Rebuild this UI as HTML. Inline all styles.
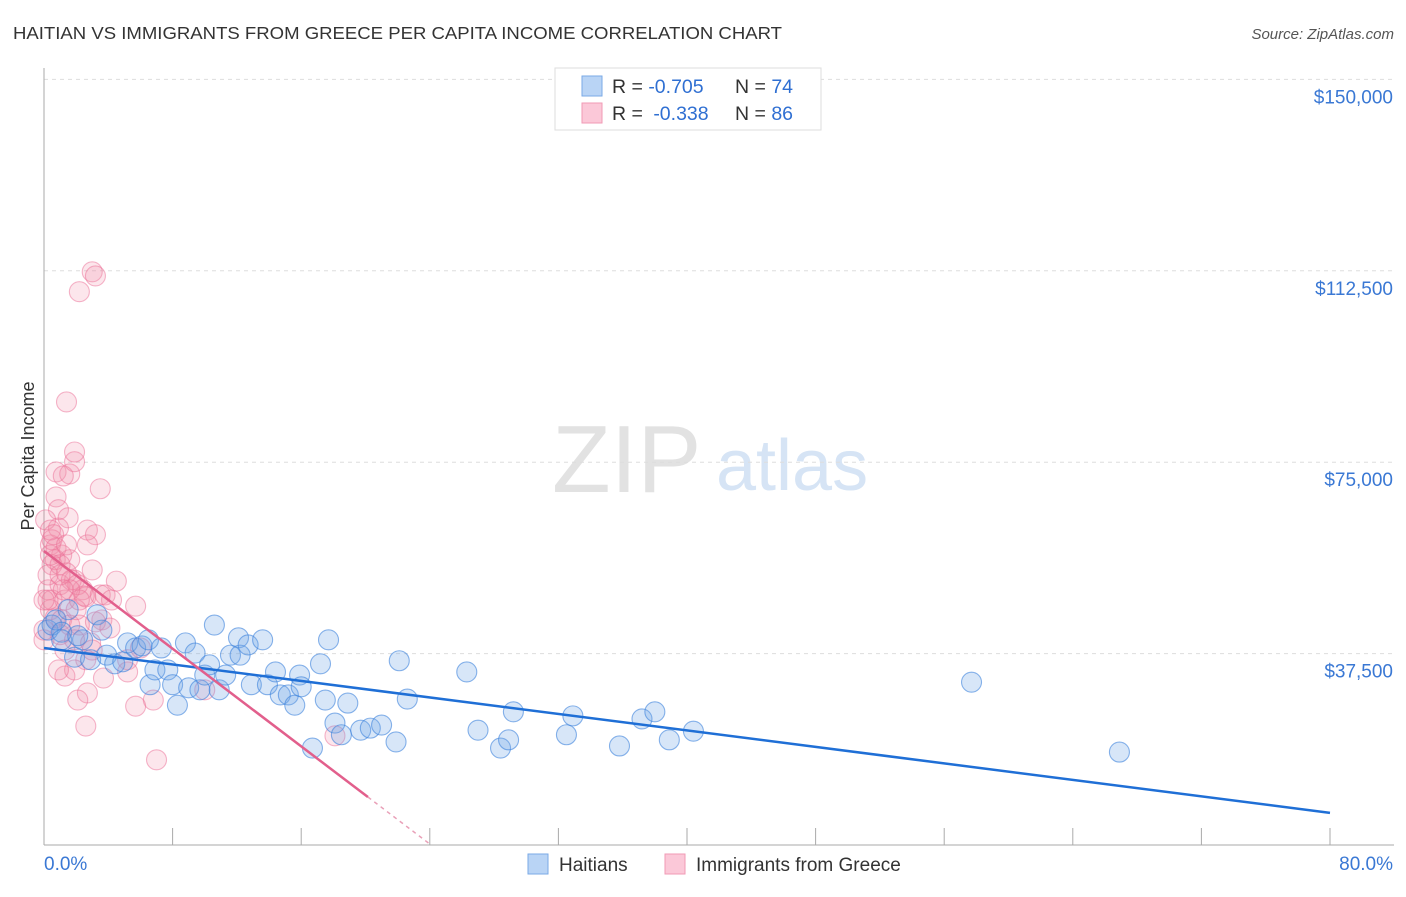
<!DOCTYPE html>
<html><head><meta charset="utf-8"><style>
body{margin:0;background:#fff;font-family:"Liberation Sans",sans-serif;}
svg text{font-family:"Liberation Sans",sans-serif;}
</style></head><body>
<svg id="chart" width="1406" height="892" viewBox="0 0 1406 892" xmlns="http://www.w3.org/2000/svg">
<text x="13" y="39" font-size="17.5" fill="#333" textLength="769" lengthAdjust="spacingAndGlyphs">HAITIAN VS IMMIGRANTS FROM GREECE PER CAPITA INCOME CORRELATION CHART</text>
<text x="1394" y="39" font-size="15" fill="#555" text-anchor="end" font-style="italic">Source: ZipAtlas.com</text>
<g>
<text x="552" y="492" font-size="96" fill="#e2e2e2" font-family="Liberation Serif,serif">ZIP</text>
<text x="716" y="490" font-size="72" fill="#d6e4f5">atlas</text>
</g>
<g id="grid"></g>
<g id="axes"></g>
<text transform="translate(34,456) rotate(-90)" font-size="18" fill="#333" text-anchor="middle">Per Capita Income</text>
<g id="pts"></g>
<g id="lines"></g>
<g>
<rect x="555" y="68" width="266" height="62" fill="#fff" stroke="#ddd"/>
<rect x="582" y="76" width="20" height="20" fill="#b9d4f5" stroke="#7aaae6"/>
<rect x="582" y="103" width="20" height="20" fill="#fbc8d8" stroke="#f09ab5"/>
<text x="612" y="93" font-size="19.5" fill="#333">R = <tspan fill="#2f6fd2">-0.705</tspan><tspan x="735">N = </tspan><tspan fill="#2f6fd2">74</tspan></text>
<text x="612" y="120" font-size="19.5" fill="#333">R = <tspan fill="#2f6fd2" dx="5">-0.338</tspan><tspan x="735">N = </tspan><tspan fill="#2f6fd2">86</tspan></text>
</g>
<g>
<rect x="528" y="854" width="20" height="20" fill="#b9d4f5" stroke="#7aaae6"/>
<text x="559" y="871" font-size="19" fill="#333">Haitians</text>
<rect x="665" y="854" width="20" height="20" fill="#fbc8d8" stroke="#f09ab5"/>
<text x="696" y="871" font-size="19" fill="#333">Immigrants from Greece</text>
</g>
</svg>
<script>
const yTicks=[37500,75000,112500,150000];
const yTickLabels=["$37,500","$75,000","$112,500","$150,000"];
const xTickLabels=["0.0%","80.0%"];
const blueX=[0.25,0.5,0.75,1.1,1.5,1.9,2.4,2.9,3.3,3.6,3.9,4.4,4.9,5.2,5.7,6.1,6.5,6.6,6.9,7.3,7.7,8.0,8.3,8.8,9.0,9.4,9.7,10.0,10.3,10.6,10.9,11.3,11.6,12.1,12.2,12.7,12.9,13.6,13.9,14.4,14.7,15.2,15.6,15.9,16.0,16.7,17.2,17.5,17.7,18.1,18.5,18.9,19.7,20.3,21.0,21.9,22.1,22.6,26.3,27.0,28.4,28.9,29.2,32.5,32.9,35.8,37.2,38.0,38.9,40.4,57.7,66.9,1.1,2.1];
const blueY=[42100,43100,44100,41700,46100,36800,40200,36300,45100,42100,37200,35500,35900,39600,38600,39000,40200,31400,34300,38600,34300,31400,27400,39600,30800,37600,30400,33300,35300,43100,30400,33300,37200,40600,37200,39200,31400,40200,31400,33900,29400,29400,27400,33300,31000,19000,35500,28400,40200,23900,21600,27800,22500,22900,23500,20200,36100,28600,33900,22500,19000,20600,26100,21600,25300,19400,24700,26100,20600,22300,31900,18200,40200,41000];
const pinkX=[3.0,3.2,2.2,1.4,0.75,1.6,1.2,1.9,1.9,3.5,0.75,0.9,1.5,2.7,3.2,0.9,2.7,0.4,1.1,0.5,0.7,1.6,3.0,4.5,0.25,1.0,1.9,2.4,1.3,2.6,5.7,0.4,0.7,1.1,1.6,3.6,2.2,1.0,1.9,2.9,1.3,2.6,0.25,0.4,0.5,0.75,1.0,1.4,1.7,2.1,2.5,3.2,4.1,5.2,6.0,1.3,1.9,5.2,3.7,2.7,2.1,6.8,5.7,10.0,2.6,18.1,7.0,0.25,0.5,0,0.9,3.5,3.8,4.2,0.1,0.4,0.6,1.4,1.6,2.0,2.2,1.0,1.2,3.0,0,0];
const pinkY=[112300,111500,108400,86800,73100,72700,72300,75100,77000,69800,68200,65700,64100,61700,60800,62100,58800,58800,56800,54900,55900,55900,53900,51700,50000,51000,51900,50000,48000,48600,46800,46100,44500,44100,43100,44100,43100,41200,40200,39600,38200,36300,52900,56800,59800,58200,54900,53300,51900,51000,48800,43700,42500,36300,38600,33100,34300,33900,32700,29800,28400,28400,27200,30400,23300,21400,16700,48000,48000,48000,34300,49000,49000,48000,63700,61700,60800,58800,50000,46100,48000,52900,50000,38200,40200,42100];
const blueTrend=[38600,6300];   // value at 0%, value at 80%
const pinkTrend=[57600,9400,20.15]; // value at 0%, value at solid end, solid end x%
const NS="http://www.w3.org/2000/svg";
const X0=44,X1=1330,Y0=845,PPV=191.4/37500;
function sx(v){return X0+(X1-X0)*v/80;}
function sy(v){return Y0-v*PPV;}
function mk(tag,attrs,parent){const e=document.createElementNS(NS,tag);for(const k in attrs)e.setAttribute(k,attrs[k]);parent.appendChild(e);return e;}
const grid=document.getElementById('grid'),axes=document.getElementById('axes'),pts=document.getElementById('pts'),lines=document.getElementById('lines');
yTicks.forEach((t,i)=>{
 const l=mk('line',{x1:44,x2:1394,y1:sy(t),y2:sy(t),stroke:'#ddd','stroke-dasharray':'4,4'},grid);
 
 
 const tx=mk('text',{x:1393,y:sy(t)+24,'font-size':19,fill:'#3a78d4','text-anchor':'end'},axes);
 tx.textContent=yTickLabels[i];
 
 
});
const ya=mk('line',{x1:44,x2:44,y1:68,y2:845,stroke:'#aaa'},axes);


const xa=mk('line',{x1:44,x2:1394,y1:845,y2:845,stroke:'#aaa'},axes);


for(let i=0;i<=10;i++){const tk=mk('line',{x1:sx(i*8),x2:sx(i*8),y1:828,y2:845,stroke:'#aaa'},axes);
 
 }
const xl0=mk('text',{x:44,y:870,'font-size':19,fill:'#3a78d4'},axes);xl0.textContent=xTickLabels[0];


const xl1=mk('text',{x:1393,y:870,'font-size':19,fill:'#3a78d4','text-anchor':'end'},axes);xl1.textContent=xTickLabels[1];


pinkX.forEach((x,i)=>{const c=mk('circle',{cx:sx(x),cy:sy(pinkY[i]),r:10,fill:'rgba(243,140,170,0.22)',stroke:'rgba(236,110,150,0.5)','stroke-width':1.1},pts);
 
 });
blueX.forEach((x,i)=>{const c=mk('circle',{cx:sx(x),cy:sy(blueY[i]),r:10,fill:'rgba(110,165,230,0.28)',stroke:'rgba(60,130,220,0.6)','stroke-width':1.1},pts);
 
 });
const bl=mk('line',{x1:sx(0),y1:sy(blueTrend[0]),x2:sx(80),y2:sy(blueTrend[1]),stroke:'#1f6fd6','stroke-width':2.5},lines);


const pl=mk('line',{x1:sx(0),y1:sy(pinkTrend[0]),x2:sx(pinkTrend[2]),y2:sy(pinkTrend[1]),stroke:'#e25f8c','stroke-width':2.5},lines);


const slope=(pinkTrend[1]-pinkTrend[0])/pinkTrend[2];const xz=-pinkTrend[0]/slope;
const pd=mk('line',{x1:sx(pinkTrend[2]),y1:sy(pinkTrend[1]),x2:sx(xz),y2:sy(0),stroke:'#e9a0b8','stroke-width':1.5,'stroke-dasharray':'4,4'},lines);


</script>
</body></html>
